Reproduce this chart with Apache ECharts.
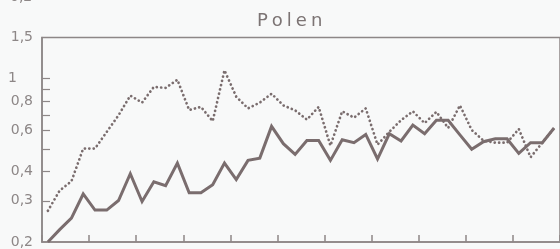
<!DOCTYPE html>
<html><head><meta charset="utf-8">
<script src="https://cdn.jsdelivr.net/npm/echarts@6/dist/echarts.min.js"></script>
<style>html,body{margin:0;padding:0;background:#f8f9f9}#c{width:560px;height:249px}</style>
</head><body><div id="c"></div>
<script>
// quarterly observations (44 quarters = 11 years)
const quarters = Array.from({length: 44}, (_, i) => i);
const solidValues = [0.20,0.226,0.253,0.321,0.274,0.274,0.301,0.392,0.298,0.362,0.348,0.435,
  0.325,0.325,0.352,0.435,0.370,0.447,0.457,0.625,0.527,0.474,0.544,0.544,
  0.447,0.548,0.532,0.577,0.453,0.581,0.541,0.633,0.581,0.664,0.664,0.575,
  0.499,0.537,0.553,0.553,0.479,0.532,0.532,0.615];
const dottedValues = [0.272,0.332,0.364,0.502,0.502,0.592,0.697,0.846,0.790,0.922,0.913,0.989,
  0.734,0.757,0.658,1.086,0.837,0.746,0.790,0.862,0.768,0.732,0.668,0.757,
  0.517,0.725,0.681,0.746,0.522,0.592,0.664,0.725,0.645,0.721,0.615,0.768,
  0.603,0.543,0.532,0.532,0.609,0.461,0.532,0.615];
const yTickValues = [0.3,0.4,0.5,0.6,0.7,0.8,0.9,1];
const yLabelValues = [0.2,0.3,0.4,0.6,0.8,1,1.5];
const titleText = 'Polen';

const col = '#7a6d6e';
const axisCol = '#8d8787';
const chart = echarts.init(document.getElementById('c'), null, {renderer: 'canvas'});
const fmt = v => { const r = Math.round(v * 10) / 10; return String(r).replace('.', ','); };
chart.setOption({
  backgroundColor: '#f8f9f9',
  animation: false,
  title: {
    text: titleText.split('').map(ch => '{a|' + ch + '}').join(''),
    left: 250, top: 7,
    textStyle: {
      fontWeight: 'normal',
      rich: { a: { fontFamily: 'DejaVu Sans', fontSize: 18, fontWeight: 'normal', color: '#7c7474', padding: [0, 2, 0, 2] } }
    }
  },
  graphic: [{
    type: 'text', left: 10, top: -10,
    style: { text: '0,2', font: '14px "DejaVu Sans"', fill: axisCol }
  }],
  grid: { left: 42, right: -1, top: 37.5, bottom: 2.5, show: true, borderColor: axisCol, borderWidth: 1.5, backgroundColor: 'transparent' },
  xAxis: {
    type: 'value', min: 0, max: 44, interval: 4,
    axisLine: { show: true, lineStyle: { color: axisCol, width: 1.5 } },
    axisTick: { show: true, inside: true, length: 7, lineStyle: { color: axisCol, width: 1.5 } },
    axisLabel: { show: false },
    splitLine: { show: false }
  },
  yAxis: {
    type: 'log', logBase: 10, min: 0.2, max: 1.5,
    axisLine: { show: true, lineStyle: { color: axisCol, width: 1.5 } },
    axisTick: { show: true, inside: true, length: 8, customValues: yTickValues, lineStyle: { color: axisCol, width: 1.2 } },
    axisLabel: {
      show: true, customValues: yLabelValues, margin: 9,
      fontFamily: 'DejaVu Sans', fontSize: 14, color: axisCol,
      formatter: v => fmt(v) === '1' ? '{p|1}' : fmt(v),
      rich: { p: { fontFamily: 'DejaVu Sans', fontSize: 14, color: axisCol, padding: [0, 16, 0, 0] } }
    },
    splitLine: { show: false }
  },
  series: [
    {
      type: 'line', data: quarters.map((q, i) => [q + 0.5, dottedValues[i]]),
      symbol: 'none', clip: true,
      lineStyle: { color: col, width: 2.7, type: [0.1, 4.3], cap: 'round' }
    },
    {
      type: 'line', data: quarters.map((q, i) => [q + 0.5, solidValues[i]]),
      symbol: 'none', clip: true,
      lineStyle: { color: col, width: 3, join: 'miter' }
    }
  ]
});
</script></body></html>
